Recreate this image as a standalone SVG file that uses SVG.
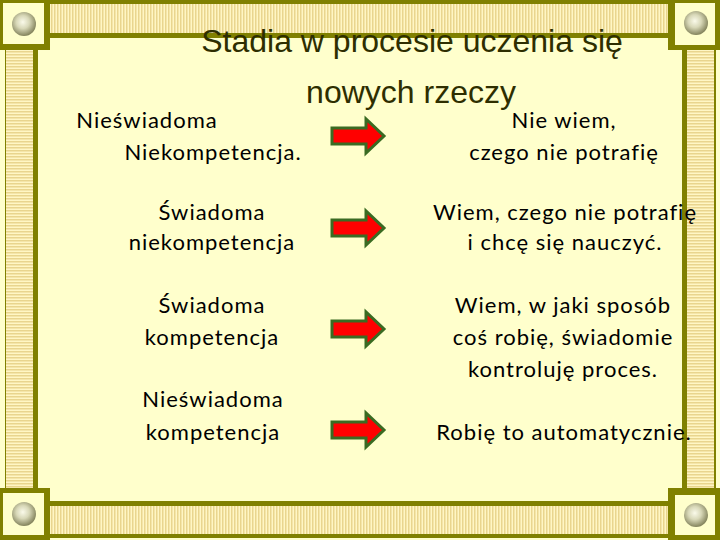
<svg xmlns="http://www.w3.org/2000/svg" width="720" height="540" viewBox="0 0 720 540">
<defs>
<style>
.olive{fill:#808000}
.pale{fill:#FFFFCC}
.title{font-family:"Liberation Sans",Arial,sans-serif;font-size:32px;fill:#2E2E00;text-anchor:middle}
.body{font-family:Lato,"Open Sans",sans-serif;font-size:22px;letter-spacing:1px;fill:#000;text-anchor:middle}
.arrow{fill:#FF0000;stroke:#3A6B22;stroke-width:3;stroke-linejoin:miter}
</style>
<pattern id="vstripes" width="3" height="4" patternUnits="userSpaceOnUse">
<rect width="3" height="4" fill="#FFF6C4"/>
<rect width="1.5" height="4" fill="#E9D58E"/>
</pattern>
<pattern id="hstripes" width="4" height="3" patternUnits="userSpaceOnUse">
<rect width="4" height="3" fill="#FFF6C4"/>
<rect width="4" height="1.5" fill="#E9D58E"/>
</pattern>
<radialGradient id="ball" cx="0.45" cy="0.42" r="0.6">
<stop offset="0" stop-color="#FAFAEA"/>
<stop offset="0.45" stop-color="#D8D8B8"/>
<stop offset="1" stop-color="#7E7E56"/>
</radialGradient>
<path id="arr" d="M0,-8 H34 V-17 L52,0 L34,17 V8 H0 Z"/>
</defs>
<rect width="720" height="540" fill="#FFFFCC"/>
<g id="frame">
<rect class="olive" x="50" y="0" width="618" height="38"/>
<rect x="50" y="4" width="618" height="29" fill="url(#vstripes)"/>
<rect class="olive" x="50" y="501" width="618" height="37"/>
<rect x="50" y="506" width="618" height="28" fill="url(#vstripes)"/>
<rect class="olive" x="5" y="50" width="33" height="438"/>
<rect x="6" y="50" width="27" height="438" fill="url(#hstripes)"/>
<rect class="olive" x="682" y="50" width="34" height="438"/>
<rect x="687" y="50" width="27" height="438" fill="url(#hstripes)"/>
<rect class="olive" x="0" y="0" width="50" height="50"/>
<rect class="pale" x="3" y="3" width="41" height="41"/>
<circle cx="24" cy="24" r="12" fill="url(#ball)"/>
<rect class="olive" x="668" y="0" width="52" height="50"/>
<rect class="pale" x="675" y="3" width="40" height="42"/>
<circle cx="696" cy="23" r="12" fill="url(#ball)"/>
<rect class="olive" x="0" y="488" width="50" height="52"/>
<rect class="pale" x="3" y="493" width="41" height="42"/>
<circle cx="24" cy="514" r="12" fill="url(#ball)"/>
<rect class="olive" x="668" y="488" width="52" height="52"/>
<rect class="pale" x="675" y="495" width="40" height="40"/>
<circle cx="696" cy="515" r="12" fill="url(#ball)"/>
</g>
<g id="title">
<text class="title" x="412" y="52">Stadia w procesie uczenia się</text>
<text class="title" x="411" y="103">nowych rzeczy</text>
</g>
<g id="row1-left"><text class="body" x="147" y="128">Nieświadoma</text><text class="body" x="213" y="160">Niekompetencja.</text></g>
<g id="row1-right"><text class="body" x="564" y="128">Nie wiem,</text><text class="body" x="564" y="160">czego nie potrafię</text></g>
<g id="row2-left"><text class="body" x="212" y="220">Świadoma</text><text class="body" x="212" y="250">niekompetencja</text></g>
<g id="row2-right"><text class="body" x="565" y="220">Wiem, czego nie potrafię</text><text class="body" x="565" y="250">i chcę się nauczyć.</text></g>
<g id="row3-left"><text class="body" x="212" y="313">Świadoma</text><text class="body" x="212" y="345">kompetencja</text></g>
<g id="row3-right"><text class="body" x="563" y="313">Wiem, w jaki sposób</text><text class="body" x="563" y="345">coś robię, świadomie</text><text class="body" x="563" y="377">kontroluję proces.</text></g>
<g id="row4-left"><text class="body" x="213" y="407">Nieświadoma</text><text class="body" x="213" y="440">kompetencja</text></g>
<g id="row4-right"><text class="body" x="564" y="440">Robię to automatycznie.</text></g>
<g id="connectors">
<use href="#arr" class="arrow" x="332" y="136"/>
<use href="#arr" class="arrow" x="332" y="228"/>
<use href="#arr" class="arrow" x="332" y="329"/>
<use href="#arr" class="arrow" x="332" y="430"/>
</g>
</svg>
